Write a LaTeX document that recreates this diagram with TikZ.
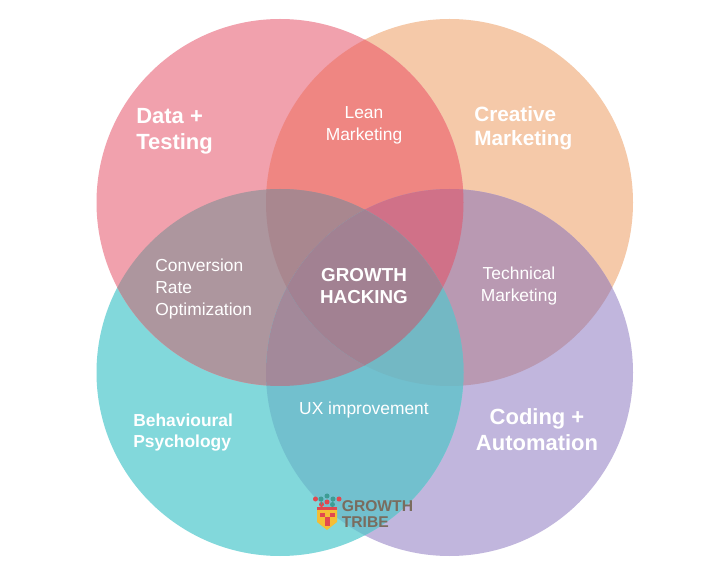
\documentclass[tikz,border=0pt]{standalone}
\usepackage{fontspec}
\setmainfont{Liberation Sans}
\definecolor{dataCol}{HTML}{F1A1AD}
\definecolor{creativeCol}{HTML}{F5C9A9}
\definecolor{behavCol}{HTML}{82D8DB}
\definecolor{codingCol}{HTML}{C1B6DD}
\definecolor{leanCol}{HTML}{EF8682}
\definecolor{convCol}{HTML}{AD969E}
\definecolor{techCol}{HTML}{B999B2}
\definecolor{uxCol}{HTML}{72C0CE}
\definecolor{upperLeftCol}{HTML}{A9878F}
\definecolor{upperRightCol}{HTML}{D07188}
\definecolor{lowerLeftCol}{HTML}{A3899A}
\definecolor{lowerRightCol}{HTML}{73B8C4}
\definecolor{growthCol}{HTML}{A28192}
\definecolor{logoCol}{HTML}{7A6C5E}
\definecolor{maskYellow}{HTML}{F4BE35}
\definecolor{maskRed}{HTML}{E2484F}
\definecolor{featherTeal}{HTML}{3E9C94}
\tikzset{
    bigLabel/.style={text=white,font=\fontsize{12.5}{14.8}\selectfont\bfseries,align=left,inner sep=0pt},
    midLabel/.style={text=white,font=\fontsize{9.9}{12.4}\selectfont,align=left,inner sep=0pt},
    logoLabel/.style={text=logoCol,font=\fontsize{8.9}{8.8}\selectfont\bfseries,align=left,inner sep=0pt}
}
\begin{document}
\begin{tikzpicture}
    \pgfmathsetmacro{\rcirc}{3.67}
    \useasboundingbox (0,0) rectangle (14.4,11.34);
    \fill[white] (0,0) rectangle (14.4,11.34);

    \coordinate (TL) at (5.60,7.29);
    \coordinate (TR) at (8.99,7.29);
    \coordinate (BL) at (5.60,3.89);
    \coordinate (BR) at (8.99,3.89);

    % single circles
    \fill[creativeCol] (TR) circle (\rcirc);
    \fill[codingCol] (BR) circle (\rcirc);
    \fill[behavCol] (BL) circle (\rcirc);
    \fill[dataCol] (TL) circle (\rcirc);

    % overlaps, pairs first and the deeper ones on top
    \foreach \ca/\cb/\cc/\cd/\regioncol in {
        TL/TR/TL/TR/leanCol, TL/BL/TL/BL/convCol, TR/BR/TR/BR/techCol, BL/BR/BL/BR/uxCol,
        TL/TR/BL/BL/upperLeftCol, TL/TR/BR/BR/upperRightCol,
        TL/BL/BR/BR/lowerLeftCol, TR/BL/BR/BR/lowerRightCol,
        TL/TR/BL/BR/growthCol}{
        \begin{scope}
            \clip (\ca) circle (\rcirc);
            \clip (\cb) circle (\rcirc);
            \clip (\cc) circle (\rcirc);
            \clip (\cd) circle (\rcirc);
            \fill[\regioncol] (0,0) rectangle (14.4,11.34);
        \end{scope}
    }

    % labels
    \node[bigLabel,anchor=west] (data) at (2.72,8.71) {Data +\\Testing};
    \node[bigLabel,anchor=west,font=\fontsize{11.8}{13.7}\selectfont\bfseries] (creative) at (9.48,8.78) {Creative\\Marketing};
    \node[bigLabel,align=center] (coding) at (10.74,2.75) {Coding +\\Automation};
    \node[bigLabel,anchor=west,font=\fontsize{9.9}{12}\selectfont\bfseries] (behav) at (2.66,2.69) {Behavioural\\Psychology};
    \node[midLabel,align=center] (lean) at (7.28,8.84) {Lean\\Marketing};
    \node[midLabel,anchor=west] (conv) at (3.10,5.56) {Conversion\\Rate\\Optimization};
    \node[midLabel,align=center] (tech) at (10.38,5.62) {Technical\\Marketing};
    \node[midLabel] (ux) at (7.28,3.14) {UX improvement};
    \node[midLabel,align=center,font=\fontsize{10.7}{12.5}\selectfont\bfseries] (growth) at (7.28,5.62) {GROWTH\\HACKING};

    % logo
    \fill[maskYellow] (6.34,1.20) -- (6.74,1.20) -- (6.74,0.90) -- (6.54,0.74) -- (6.34,0.90) -- cycle;
    \fill[maskRed] (6.34,1.20) -- (6.74,1.20) -- (6.74,1.13) -- (6.34,1.13) -- cycle;
    \fill[maskRed] (6.39,1.08) rectangle (6.49,0.99);
    \fill[maskRed] (6.59,1.08) rectangle (6.69,0.99);
    \fill[maskRed] (6.49,1.00) rectangle (6.59,0.82);
    \foreach \px/\py/\dotcol in {6.31/1.36/maskRed, 6.42/1.36/featherTeal, 6.43/1.25/maskRed, 6.54/1.30/maskRed, 6.65/1.25/featherTeal, 6.66/1.36/featherTeal, 6.78/1.36/maskRed, 6.54/1.42/featherTeal}{
        \fill[\dotcol] (\px,\py) circle (0.05);
    }
    \draw[featherTeal,line width=0.5pt] (6.43,1.25) -- (6.42,1.36);
    \draw[featherTeal,line width=0.5pt] (6.65,1.25) -- (6.66,1.36);
    \node[logoLabel,anchor=west] (logo) at (6.83,1.06) {GROWTH\\TRIBE};
\end{tikzpicture}
\end{document}
